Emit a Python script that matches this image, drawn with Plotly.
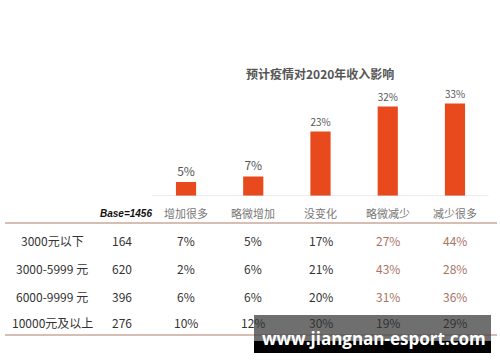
import plotly.graph_objects as go

categories = ["增加很多", "略微增加", "没变化", "略微减少", "减少很多"]
overall = [5, 7, 23, 32, 33]
row_labels = ["3000元以下", "3000-5999 元", "6000-9999 元", "10000元及以上"]
base_counts = [164, 620, 396, 276]
row_values = [
    [7, 5, 17, 27, 44],
    [2, 6, 21, 43, 28],
    [6, 6, 20, 31, 36],
    [10, 12, 30, 19, 29],
]
title = "预计疫情对2020年收入影响"
base_label = "Base=1456"
watermark = "www.jiangnan-esport.com"

W, H = 500, 362
def px(x): return x / W
def py(y): return 1 - y / H

CJK = "Noto Sans CJK SC"
fig = go.Figure()
fig.add_trace(go.Bar(
    x=categories, y=overall,
    marker=dict(color="#e84a1e", line=dict(width=0)),
    text=[f"{v}%" for v in overall], textposition="outside",
    textfont=dict(family=CJK, size=12, color="#555555"),
    cliponaxis=False, width=0.3,
))

ann = []
def add(text, x, y, xref="paper", font=None):
    ann.append(dict(text=text, x=x, y=y, xref=xref, yref="paper", showarrow=False,
                    xanchor="center", yanchor="middle", font=font))

add(f"<b>{title}</b>", px(320), py(73), font=dict(family=CJK, size=12, color="#555555"))
header_y = 213
add(base_label, px(126), py(header_y),
    font=dict(family="Liberation Sans", size=10, color="#111111", weight="bold", style="italic"))
for i, c in enumerate(categories):
    add(c, i, py(header_y), xref="x", font=dict(family=CJK, size=11, color="#777777"))
row_ys = [240, 268, 296, 322]
for r, lab in enumerate(row_labels):
    yy = py(row_ys[r])
    add(lab, px(52), yy, font=dict(family=CJK, size=12, color="#333333"))
    add(str(base_counts[r]), px(122), yy, font=dict(family=CJK, size=12, color="#333333"))
    for i, v in enumerate(row_values[r]):
        col = "#a87565" if (i >= 3 and r < 3) else "#333333"
        add(f"{v}%", i, yy, xref="x", font=dict(family=CJK, size=12, color=col))

add(f"<b>{watermark}</b>", px(374), py(338), font=dict(family="Open Sans", size=17, color="#ffffff"))

shapes = [
    dict(type="line", xref="x domain", yref="y", x0=0, x1=1, y0=0, y1=0,
         line=dict(color="#d9d9d9", width=1)),
    dict(type="line", xref="paper", yref="paper", x0=px(5), x1=px(497), y0=py(223), y1=py(223),
         line=dict(color="#c9a99c", width=1.5)),
    dict(type="line", xref="paper", yref="paper", x0=px(5), x1=px(497), y0=py(335), y1=py(335),
         line=dict(color="#c9a99c", width=1.5)),
    dict(type="rect", xref="paper", yref="paper", x0=px(254), x1=px(491), y0=py(341), y1=py(315),
         fillcolor="rgba(70,70,70,0.78)", line=dict(width=0), layer="above"),
    dict(type="rect", xref="paper", yref="paper", x0=px(254), x1=px(491), y0=py(353), y1=py(341),
         fillcolor="#000000", line=dict(width=0), layer="above"),
]

fig.update_layout(
    width=W, height=H, margin=dict(l=0, r=0, t=0, b=0),
    paper_bgcolor="white", plot_bgcolor="white", showlegend=False,
    xaxis=dict(domain=[px(152.4), px(488.6)], range=[-0.5, 4.5], showticklabels=False,
               showgrid=False, zeroline=False, showline=False, ticks=""),
    yaxis=dict(domain=[py(196), py(84)], range=[0, 40], visible=False),
    annotations=ann, shapes=shapes,
)
fig.write_html("out.html", config={"displayModeBar": False},
               post_script="document.body.style.margin='0';document.body.style.overflow='hidden';")
